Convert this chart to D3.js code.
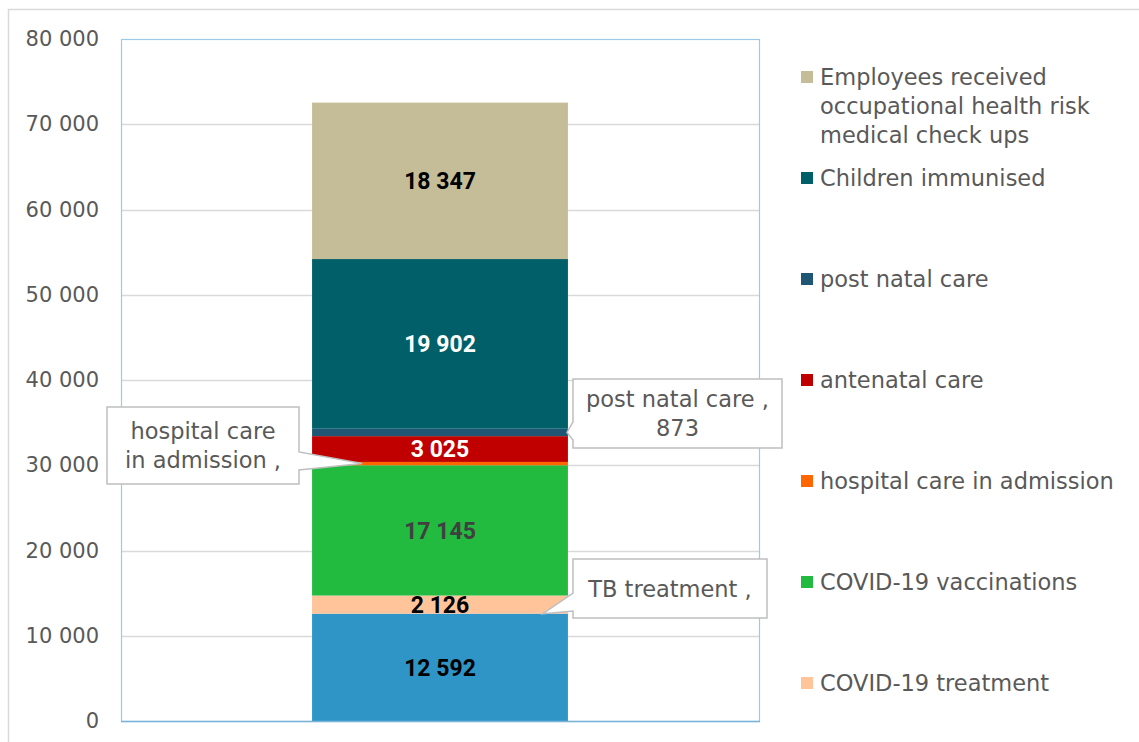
<!DOCTYPE html>
<html>
<head>
<meta charset="utf-8">
<script src="https://cdn.jsdelivr.net/npm/d3@7"></script>
<style>
  body { margin: 0; background: #fff; }
  svg { display: block; font-family: "DejaVu Sans", sans-serif; }
</style>
</head>
<body>
<svg id="chart"></svg>
<script>
// stack order, bottom to top
const seriesNames = [
  "TB treatment",
  "COVID-19 treatment",
  "COVID-19 vaccinations",
  "hospital care in admission",
  "antenatal care",
  "post natal care",
  "Children immunised",
  "Employees received occupational health risk medical check ups"
];
// segment heights as drawn
const values = [12592, 2126, 15280, 390, 3025, 873, 19902, 18347];
// numbers printed inside the segments (null = no label)
const labelValues = [12592, 2126, 17145, null, 3025, null, 19902, 18347];
const colors = ["#2E95C6", "#FFC49A", "#23BA40", "#FF6600", "#C00000", "#1F5673", "#005F69", "#C4BD97"];
const labelColors = ["#000", "#000", "#404040", "#000", "#fff", "#fff", "#fff", "#000"];
const legendLines = [
  null, ["COVID-19 treatment"], ["COVID-19 vaccinations"], ["hospital care in admission"],
  ["antenatal care"], ["post natal care"], ["Children immunised"],
  ["Employees received", "occupational health risk", "medical check ups"]
];
const yTicks = [0, 10000, 20000, 30000, 40000, 50000, 60000, 70000, 80000];
const category = ["Total"];

const svgWidth = 1139, svgHeight = 742;
const plot = { left: 121, right: 759, top: 39, bottom: 721 };

const svg = d3.select("#chart")
    .attr("width", svgWidth)
    .attr("height", svgHeight);

const locale = d3.formatLocale({ decimal: ".", thousands: " ", grouping: [3], currency: ["", ""] });
const fmt = locale.format(",");

const y = d3.scaleLinear().domain([0, 80000]).range([plot.bottom, plot.top]);
const x = d3.scaleBand().domain(category).range([plot.left, plot.right]).padding(0.4275);

// outer chart border
svg.append("rect")
    .attr("x", 8.5).attr("y", 9.5)
    .attr("width", 1150).attr("height", 760)
    .attr("fill", "none").attr("stroke", "#D9D9D9").attr("stroke-width", 1.5);

// gridlines
svg.append("g")
    .selectAll("line")
    .data(yTicks.slice(1, -1))
    .join("line")
    .attr("x1", plot.left).attr("x2", plot.right)
    .attr("y1", d => Math.round(y(d)) + 0.5).attr("y2", d => Math.round(y(d)) + 0.5)
    .attr("stroke", "#D9D9D9").attr("stroke-width", 1.3);

// plot area border
svg.append("rect")
    .attr("x", plot.left + 0.5).attr("y", plot.top + 0.5)
    .attr("width", plot.right - plot.left).attr("height", plot.bottom - plot.top)
    .attr("fill", "none").attr("stroke", "#9CCAE8").attr("stroke-width", 1.2);

// y axis labels
const yAxis = d3.axisLeft(y).tickValues(yTicks).tickFormat(fmt).tickSize(0).tickPadding(22);
const ya = svg.append("g")
    .attr("transform", "translate(" + plot.left + ",0)")
    .call(yAxis);
ya.select(".domain").remove();
ya.selectAll("text")
    .attr("fill", "#595959")
    .style("font-family", "'DejaVu Sans', sans-serif")
    .style("font-size", "21px");

// stacked segments
const stackData = [Object.fromEntries(seriesNames.map((s, i) => [s, values[i]]))];
const series = d3.stack().keys(seriesNames)(stackData);

svg.append("g")
    .selectAll("rect")
    .data(series)
    .join("rect")
    .attr("x", x("Total"))
    .attr("width", x.bandwidth())
    .attr("y", d => y(d[0][1]))
    .attr("height", d => y(d[0][0]) - y(d[0][1]))
    .attr("fill", (d, i) => colors[i]);

// bottom axis line
svg.append("line")
    .attr("x1", plot.left).attr("x2", plot.right + 1)
    .attr("y1", plot.bottom + 0.5).attr("y2", plot.bottom + 0.5)
    .attr("stroke", "#7AB3D8").attr("stroke-width", 1.5);

// data labels
svg.append("g")
    .selectAll("text")
    .data(series.filter((d, i) => labelValues[i] != null))
    .join("text")
    .attr("x", x("Total") + x.bandwidth() / 2)
    .attr("y", d => (y(d[0][0]) + y(d[0][1])) / 2)
    .attr("dy", "0.36em")
    .attr("text-anchor", "middle")
    .attr("fill", d => labelColors[d.index])
    .style("font-family", "Roboto, sans-serif")
    .style("font-weight", "bold")
    .style("font-size", "23px")
    .text(d => fmt(labelValues[d.index]));

// callouts
function segMid(i) { return (y(series[i][0][0]) + y(series[i][0][1])) / 2; }

const callouts = [
  { idx: 3, lines: ["hospital care", "in admission ,"], box: [107, 407, 299, 484],
    side: "right", base: [452, 470], tip: () => [x("Total") + 50, segMid(3)] },
  { idx: 5, lines: ["post natal care ,", fmt(values[5])], box: [573, 379, 782, 448],
    side: "left", base: [422, 440], tip: () => [x("Total") + x.bandwidth() - 1, segMid(5)] },
  { idx: 0, lines: ["TB treatment ,"], box: [573, 559, 767, 618],
    side: "left", base: [593, 611], tip: () => [x("Total") + x.bandwidth() - 25, y(series[0][0][1])] }
];

callouts.forEach(c => {
  const [x0, y0, x1, y1] = c.box;
  const [tx, ty] = c.tip();
  const p = d3.path();
  p.moveTo(x0, y0);
  p.lineTo(x1, y0);
  if (c.side === "right") {
    p.lineTo(x1, c.base[0]); p.lineTo(tx, ty); p.lineTo(x1, c.base[1]);
  }
  p.lineTo(x1, y1);
  p.lineTo(x0, y1);
  if (c.side === "left") {
    p.lineTo(x0, c.base[1]); p.lineTo(tx, ty); p.lineTo(x0, c.base[0]);
  }
  p.closePath();
  const g = svg.append("g");
  g.append("path")
    .attr("d", p.toString())
    .attr("fill", "#fff")
    .attr("stroke", "#BFBFBF").attr("stroke-width", 1.5);
  const lh = 29;
  const cy = (y0 + y1) / 2 - (c.lines.length - 1) * lh / 2;
  g.selectAll("text")
    .data(c.lines)
    .join("text")
    .attr("x", (x0 + x1) / 2)
    .attr("y", (d, i) => cy + i * lh)
    .attr("dy", "0.36em")
    .attr("text-anchor", "middle")
    .attr("fill", "#595959")
    .style("font-size", "22.5px")
    .text(d => d);
});

// legend (top of stack first; TB treatment does not fit)
const legend = svg.append("g").attr("transform", "translate(801,0)");
const legendItems = d3.range(seriesNames.length - 1, 0, -1);
legendItems.forEach((si, k) => {
  const cy = 77 + k * 101;
  legend.append("rect")
    .attr("x", 0).attr("y", cy - 6)
    .attr("width", 12).attr("height", 12)
    .attr("fill", colors[si]);
  legend.selectAll(null)
    .data(legendLines[si])
    .join("text")
    .attr("x", 19)
    .attr("y", (d, i) => cy + i * 29)
    .attr("dy", "0.36em")
    .attr("fill", "#595959")
    .style("font-size", "22.5px")
    .text(d => d);
});
</script>
</body>
</html>
